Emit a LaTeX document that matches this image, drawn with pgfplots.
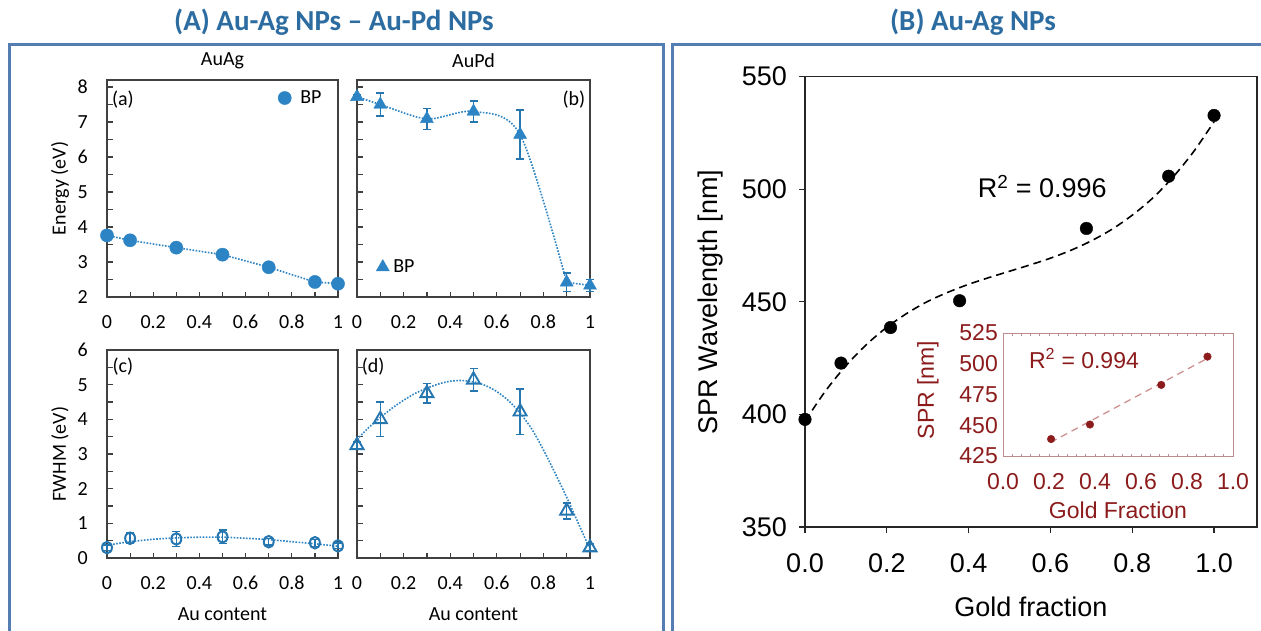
\documentclass[border=0pt]{standalone}
\usepackage{pgfplots}
\pgfplotsset{compat=1.18}
\usepackage{fontspec}
\setmainfont{Carlito}
\newfontfamily\calibri{Carlito}
\newfontfamily\arial{Liberation Sans}

\definecolor{ttl}{RGB}{44,108,160}
\definecolor{frm}{RGB}{84,125,178}
\definecolor{bp}{RGB}{44,132,196}
\definecolor{bpo}{RGB}{38,118,176}
\definecolor{inkred}{RGB}{140,28,28}
\definecolor{insetbox}{RGB}{186,140,140}
\definecolor{insetline}{RGB}{205,145,145}

\newcommand{\fa}{\calibri\fontsize{20bp}{23bp}\selectfont}
\newcommand{\ft}{\calibri\bfseries\fontsize{29bp}{33bp}\selectfont}
\newcommand{\fb}{\arial\fontsize{27bp}{32bp}\selectfont}
\newcommand{\fc}{\arial\fontsize{23bp}{27bp}\selectfont}

\pgfplotsset{
  panel/.style={
    scale only axis, xmin=0, xmax=1, clip=false,
    axis line style={line width=1.4bp, black!75},
    tick align=inside, xtick pos=left, ytick pos=left,
    major tick length=5.5bp, minor tick length=5.5bp,
    every tick/.style={line width=1.2bp, black!75},
    xtick={0,0.2,0.4,0.6,0.8,1},
    xticklabels={0,0.2,0.4,0.6,0.8,1},
    minor xtick={0.1,0.3,0.5,0.7,0.9},
    xticklabel style={font=\fa, anchor=center, yshift=-25bp},
    yticklabel style={font=\fa, anchor=east, inner sep=0pt, xshift=-19bp},
    title style={font=\fa, at={(axis description cs:0.5,1)}, anchor=center, yshift=13bp},
    legend image code/.code={\draw[#1] plot coordinates {(0bp,0bp)};},
  },
  energy/.style={ymin=2, ymax=8.2, ytick={2,3,4,5,6,7,8},
    minor ytick={2.5,3.5,4.5,5.5,6.5,7.5}},
  fwhm/.style={ymin=0, ymax=6, ytick={0,1,2,3,4,5,6},
    minor ytick={0.5,1.5,2.5,3.5,4.5,5.5}},
  dotline/.style={bp, line width=1.6bp, dash pattern=on 1.6bp off 1.5bp},
  ebars/.style={error bars/.cd, y dir=both, y explicit,
    error bar style={line width=1.4bp, bpo},
    error mark options={rotate=90, mark size=4bp, line width=1.4bp, bpo}},
}

\begin{document}
\begin{tikzpicture}
\fill[white] (0,0) rectangle (1261bp,-631bp);
\useasboundingbox (0,0) rectangle (1261bp,-631bp);

% ---------- (a) AuAg energy ----------
\begin{axis}[panel, energy, at={(107bp,-297bp)}, anchor=south west,
  width=231bp, height=217bp,
  yticklabels={2,3,4,5,6,7,8},
  title={AuAg},
  ylabel={Energy (eV)},
  ylabel style={font=\fa, at={(axis description cs:-0.2035,0.5)}, anchor=center},
  legend style={at={(0.74,0.917)}, anchor=west, draw=none, fill=none,
    inner sep=0pt, font=\fa, /tikz/every odd column/.append style={column sep=7bp}}]
\addplot[dotline, forget plot] table {
0   3.76
0.1 3.62
0.3 3.41
0.5 3.21
0.7 2.85
0.9 2.43
1.0 2.38
};
\addplot[only marks, mark=*, mark size=6.6bp, bp] table {
0   3.76
0.1 3.62
0.3 3.41
0.5 3.21
0.7 2.85
0.9 2.43
1.0 2.38
};
\addlegendentry{BP}
\node[font=\fa] at (axis description cs:0.069,0.912) {(a)};
\end{axis}

% ---------- (b) AuPd energy ----------
\begin{axis}[panel, energy, at={(357bp,-297bp)}, anchor=south west,
  width=233bp, height=217bp,
  yticklabels={},
  title={AuPd},
  legend style={at={(0.082,0.138)}, anchor=west, draw=none, fill=none,
    inner sep=0pt, font=\fa, /tikz/every odd column/.append style={column sep=2bp}}]
\addplot[dotline, smooth, tension=0.5, forget plot] table {
0   7.72
0.1 7.50
0.3 7.09
0.5 7.30
0.7 6.64
0.9 2.42
};
\addplot[dotline, forget plot] table {
0.9 2.42
1.0 2.33
};
\addplot[only marks, mark=triangle*, mark size=7.5bp, bp, ebars]
  table[x index=0, y index=1, y error index=2] {
0   7.72 0.05
0.1 7.50 0.33
0.3 7.09 0.30
0.5 7.30 0.30
0.7 6.64 0.70
0.9 2.42 0.27
1.0 2.33 0.17
};
\addlegendentry{BP}
\node[font=\fa] at (axis description cs:0.931,0.912) {(b)};
\end{axis}

% ---------- (c) AuAg FWHM ----------
\begin{axis}[panel, fwhm, at={(107bp,-558bp)}, anchor=south west,
  width=231bp, height=208bp,
  yticklabels={0,1,2,3,4,5,6},
  ylabel={FWHM (eV)},
  ylabel style={font=\fa, at={(axis description cs:-0.2035,0.5)}, anchor=center},
  xlabel={Au content},
  xlabel style={font=\fa, at={(axis description cs:0.5,-0.269)}, anchor=center}]
\addplot[dotline, smooth] table {
0   0.37
0.1 0.47
0.2 0.54
0.3 0.58
0.4 0.60
0.5 0.60
0.6 0.57
0.7 0.53
0.8 0.47
0.9 0.41
1.0 0.34
};
\addplot[only marks, mark=o, mark size=5.8bp, bpo,
  mark options={xscale=0.85, line width=2bp, fill=white}, ebars]
  table[x index=0, y index=1, y error index=2] {
0   0.30 0.08
0.1 0.57 0.15
0.3 0.55 0.22
0.5 0.61 0.20
0.7 0.47 0.10
0.9 0.44 0.10
1.0 0.35 0.08
};
\node[font=\fa] at (axis description cs:0.069,0.918) {(c)};
\end{axis}

% ---------- (d) AuPd FWHM ----------
\begin{axis}[panel, fwhm, at={(357bp,-558bp)}, anchor=south west,
  width=233bp, height=208bp,
  yticklabels={},
  xlabel={Au content},
  xlabel style={font=\fa, at={(axis description cs:0.5,-0.269)}, anchor=center}]
\addplot[dotline, smooth] table {
0    3.42
0.05 3.76
0.1  4.05
0.15 4.32
0.2  4.55
0.25 4.75
0.3  4.90
0.35 5.02
0.4  5.10
0.45 5.12
0.5  5.08
0.55 4.98
0.6  4.80
0.65 4.54
0.7  4.18
0.75 3.72
0.8  3.12
0.85 2.45
0.9  1.75
0.95 1.00
1.0  0.25
};
\addplot[only marks, mark=triangle, mark size=7.5bp, bpo,
  mark options={line width=1.9bp, fill=white}, ebars]
  table[x index=0, y index=1, y error index=2] {
0   3.25 0.10
0.1 4.00 0.50
0.3 4.75 0.28
0.5 5.14 0.32
0.7 4.22 0.65
0.9 1.36 0.23
1.0 0.30 0.10
};
\node[font=\fa] at (axis description cs:0.069,0.918) {(d)};
\end{axis}

% ---------- (B) SPR wavelength vs gold fraction ----------
\begin{axis}[scale only axis, at={(805bp,-527bp)}, anchor=south west,
  width=452bp, height=450.3bp, clip=false,
  xmin=0, xmax=1.105, ymin=350, ymax=550,
  axis line style={line width=1.3bp, black!85},
  tick align=outside, xtick pos=left, ytick pos=left,
  major tick length=6bp, every tick/.style={line width=1.2bp, black!85},
  xtick={0,0.2,0.4,0.6,0.8,1}, xticklabels={0.0,0.2,0.4,0.6,0.8,1.0},
  ytick={350,400,450,500,550}, yticklabels={350,400,450,500,550},
  xticklabel style={font=\fb, anchor=center, yshift=-30bp},
  yticklabel style={font=\fb, anchor=east, inner sep=0pt, xshift=-12bp},
  xlabel={Gold fraction},
  xlabel style={font=\fb, at={(axis description cs:0.5,-0.178)}, anchor=center},
  ylabel={SPR Wavelength [nm]},
  ylabel style={font=\fb, at={(axis description cs:-0.208,0.5)}, anchor=center}]
\addplot[black, line width=1.6bp, dash pattern=on 8bp off 5bp, smooth] table {
0    397.0
0.05 410.4
0.1  421.6
0.15 431.0
0.2  438.7
0.25 445.0
0.3  450.2
0.35 454.3
0.4  457.8
0.45 460.8
0.5  463.6
0.55 466.4
0.6  469.4
0.65 472.9
0.7  477.1
0.75 482.2
0.8  488.5
0.85 496.1
0.9  505.5
0.95 516.7
1.0  530.0
};
\addplot[only marks, mark=*, mark size=6.3bp, black] table {
0     397.8
0.088 422.8
0.209 438.6
0.378 450.5
0.688 482.6
0.889 505.8
1.0   532.8
};
\node[font=\fb] at (axis cs:0.58,501) {R\textsuperscript{2} = 0.996};
\end{axis}

% ---------- inset: linear fit ----------
\begin{axis}[scale only axis, at={(1003bp,-456bp)}, anchor=south west,
  width=230bp, height=123bp, clip=false,
  xmin=0, xmax=1, ymin=425, ymax=525,
  axis background/.style={fill=white},
  axis line style={line width=1bp, insetbox},
  tick align=inside, xtick pos=both, xticklabel pos=left, ytick pos=left,
  major tick length=2.5bp, minor tick length=2.5bp,
  every tick/.style={line width=0.8bp, insetbox},
  minor x tick num=4,
  ytick style={draw=none},
  xtick={0,0.2,0.4,0.6,0.8,1}, xticklabels={0.0,0.2,0.4,0.6,0.8,1.0},
  ytick={425,450,475,500,525}, yticklabels={425,450,475,500,525},
  xticklabel style={font=\fc, text=inkred, anchor=center, yshift=-26bp},
  yticklabel style={font=\fc, text=inkred, anchor=east, inner sep=0pt, xshift=-5bp},
  xlabel={Gold Fraction},
  xlabel style={font=\fc, text=inkred, at={(axis description cs:0.5,-0.439)}, anchor=center},
  ylabel={SPR [nm]},
  ylabel style={font=\fc, text=inkred, at={(axis description cs:-0.326,0.537)}, anchor=center}]
\addplot[insetline, line width=1.3bp, dash pattern=on 7bp off 5bp] table {
0.206 436.0
0.883 503.8
};
\addplot[only marks, mark=*, mark size=3.8bp, inkred] table {
0.209 438.8
0.378 450.6
0.688 482.8
0.889 505.8
};
\node[font=\fc, text=inkred] at (axis cs:0.352,504) {R\textsuperscript{2} = 0.994};
\end{axis}

% ---------- panel frames and headings ----------
\draw[frm, line width=3bp] (9bp,-44bp) rectangle (663bp,-660bp);
\draw[frm, line width=3bp] (672bp,-44bp) rectangle (1280bp,-660bp);
\node[font=\ft, text=ttl] at (334bp,-22bp) {(A) Au-Ag NPs – Au-Pd NPs};
\node[font=\ft, text=ttl] at (973bp,-22bp) {(B) Au-Ag NPs};
\end{tikzpicture}
\end{document}
